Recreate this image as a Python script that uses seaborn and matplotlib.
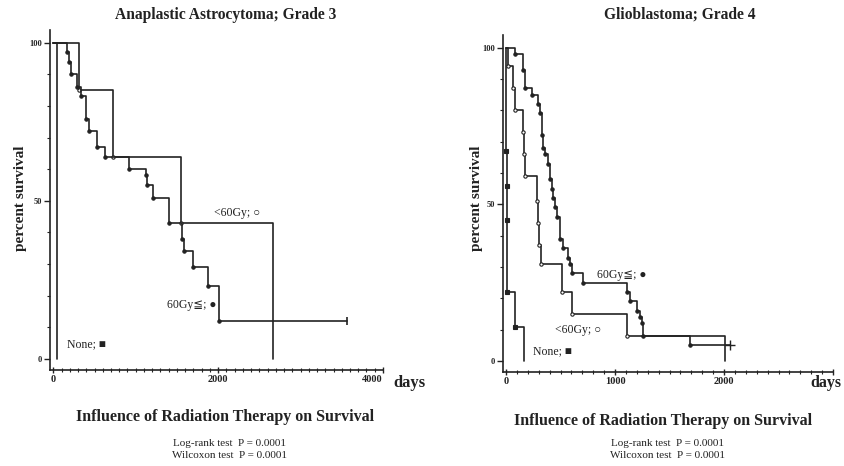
import matplotlib
matplotlib.use("Agg")
import matplotlib.pyplot as plt
import seaborn as sns
from matplotlib.ticker import MultipleLocator

# ---------------- data ----------------
# Left panel: Anaplastic Astrocytoma; Grade 3
aa_ge60_days = [0, 160, 190, 215, 290, 330, 400, 430, 530, 630, 915, 1120, 1140,
                1215, 1400, 1560, 1580, 1700, 1875, 2005, 3560]
aa_ge60_surv = [100, 97, 94, 90, 86, 83, 76, 72, 67, 64, 60, 58, 55,
                51, 43, 38, 34, 29, 23, 12, 12]
aa_lt60_days = [0, 310, 720, 1545, 2660]
aa_lt60_surv = [100, 85, 64, 43, 0]
aa_none_days = [0, 50]
aa_none_surv = [100, 0]
aa_censor_days = [3560]
aa_censor_surv = [12]

# Right panel: Glioblastoma; Grade 4
gbm_ge60_days = [0, 83, 156, 174, 239, 294, 312, 327, 340, 358, 385, 404, 419, 431, 449,
                 465, 495, 523, 569, 590, 606, 706, 1110, 1138, 1200, 1228, 1248, 1258,
                 1690, 2055]
gbm_ge60_surv = [100, 98, 93, 87, 85, 82, 79, 72, 68, 66, 63, 58, 55, 52, 49,
                 46, 39, 36, 33, 31, 28, 25, 22, 19, 16, 14, 12, 8, 5, 5]
gbm_lt60_days = [0, 18, 64, 80, 156, 165, 174, 284, 295, 305, 320, 514, 606, 1110, 2010]
gbm_lt60_surv = [100, 94, 87, 80, 73, 66, 59, 51, 44, 37, 31, 22, 15, 8, 0]
gbm_none_days = [0, 2, 4, 6, 8, 80, 165]
gbm_none_surv = [100, 67, 56, 45, 22, 11, 0]
gbm_censor_days = [2055]
gbm_censor_surv = [5]

titles = ["Anaplastic Astrocytoma; Grade 3", "Glioblastoma; Grade 4"]
group_labels = ["60Gy≦; ●", "<60Gy; ○", "None; ■"]
left_xticks = [0, 2000, 4000]
left_xticklabels = ["0", "2000", "4000"]
right_xticks = [0, 1000, 2000, 3000]
right_xticklabels = ["0", "1000", "2000", ""]
yticks = [0, 50, 100]
yticklabels = ["0", "50", "100"]
footer = "Influence of Radiation Therapy on Survival"
stats = ["Log-rank test  P = 0.0001", "Wilcoxon test  P = 0.0001"]

# ---------------- style ----------------
sns.set_theme(style="ticks")
plt.rcParams["font.family"] = ["Liberation Serif", "DejaVu Serif", "DejaVu Sans"]
INK = "#222222"

fig = plt.figure(figsize=(8.45, 4.66), dpi=100)
axL = fig.add_axes([0.0592, 0.206, 0.394, 0.7296])
axR = fig.add_axes([0.5953, 0.2017, 0.3905, 0.723])


def km(ax, days, surv, marker=None, mfc=INK, ms=2.4, lw=1.2):
    n = len(days)
    kw = {}
    if marker is not None and n > 2:
        kw = dict(marker=marker, markersize=ms, markerfacecolor=mfc,
                  markeredgecolor=INK, markeredgewidth=0.8,
                  markevery=list(range(1, n - 1)))
    sns.lineplot(x=days, y=surv, ax=ax, estimator=None, sort=False,
                 drawstyle="steps-post", color=INK, linewidth=lw,
                 legend=False, **kw)


def style_axis(ax, xlim, xticks, xticklabels):
    ax.set_xlim(*xlim)
    ax.set_ylim(-3.5, 104)
    sns.despine(ax=ax)
    ax.set_yticks(yticks)
    ax.set_yticklabels(yticklabels)
    ax.set_xticks(xticks)
    ax.set_xticklabels(xticklabels)
    ax.yaxis.set_minor_locator(MultipleLocator(10))
    ax.xaxis.set_minor_locator(MultipleLocator(100))
    ax.tick_params(axis="y", which="major", length=4, width=1.0,
                   labelsize=6, colors=INK, pad=2)
    ax.tick_params(axis="x", which="major", length=5, width=1.0,
                   labelsize=7.5, colors=INK, pad=1)
    ax.tick_params(axis="both", which="minor", length=2.5, width=0.8, colors=INK)
    ax.tick_params(axis="x", which="both", direction="inout")
    for lab in ax.get_xticklabels() + ax.get_yticklabels():
        lab.set_fontweight("bold")
    for s in ax.spines.values():
        s.set_linewidth(1.2)
        s.set_color(INK)
    ax.set_xlabel("")
    ax.set_ylabel("")


# ---------------- left panel ----------------
km(axL, aa_none_days, aa_none_surv)
km(axL, aa_lt60_days, aa_lt60_surv, marker="o", mfc="white")
km(axL, aa_ge60_days, aa_ge60_surv, marker="o", mfc=INK)
sns.scatterplot(x=aa_censor_days, y=aa_censor_surv, ax=axL, marker="|", s=40,
                color=INK, linewidth=1.2, legend=False)
style_axis(axL, (-40, 4000), left_xticks, left_xticklabels)
axL.get_xticklabels()[-1].set_ha("right")
axL.text(1950, 46, group_labels[1], fontsize=8.5, va="center", ha="left", color=INK)
axL.text(1385, 17, group_labels[0], fontsize=8.5, va="center", ha="left", color=INK)
axL.text(170, 4.5, group_labels[2], fontsize=8.5, va="center", ha="left", color=INK)

# ---------------- right panel ----------------
km(axR, gbm_none_days, gbm_none_surv, marker="s", mfc=INK)
km(axR, gbm_lt60_days, gbm_lt60_surv, marker="o", mfc="white")
km(axR, gbm_ge60_days, gbm_ge60_surv, marker="o", mfc=INK)
sns.scatterplot(x=gbm_censor_days, y=gbm_censor_surv, ax=axR, marker="+", s=50,
                color=INK, linewidth=1.0, legend=False)
style_axis(axR, (-28, 3000), right_xticks, right_xticklabels)
axR.text(835, 27.5, group_labels[0], fontsize=8.5, va="center", ha="left", color=INK)
axR.text(450, 10, group_labels[1], fontsize=8.5, va="center", ha="left", color=INK)
axR.text(248, 3.2, group_labels[2], fontsize=8.5, va="center", ha="left", color=INK)

# ---------------- figure text ----------------
W, H = 845.0, 466.0
fig.text(226 / W, 1 - 15 / H, titles[0], ha="center", va="center", fontsize=11.2,
         fontweight="bold", color=INK)
fig.text(680 / W, 1 - 15 / H, titles[1], ha="center", va="center", fontsize=11.2,
         fontweight="bold", color=INK)
for xpix in (21, 477):
    fig.text(xpix / W, 1 - 198 / H, "percent survival", rotation=90, ha="center",
             va="center", fontsize=11, fontweight="bold", color=INK)
fig.text(409 / W, 1 - 383 / H, "days", ha="center", va="center", fontsize=12,
         fontweight="bold", color=INK)
fig.text(826 / W, 1 - 383 / H, "days", ha="center", va="center", fontsize=11.5,
         fontweight="bold", color=INK)

for cx, fy, sy1, sy2 in ((225, 417, 443, 456), (663, 421, 443, 456)):
    fig.text(cx / W, 1 - fy / H, footer, ha="center", va="center", fontsize=11.5,
             fontweight="bold", color=INK)
    fig.text((cx + 5) / W, 1 - sy1 / H, stats[0], ha="center", va="center",
             fontsize=8, color=INK)
    fig.text((cx + 5) / W, 1 - sy2 / H, stats[1], ha="center", va="center",
             fontsize=8, color=INK)

fig.savefig("out.png", dpi=100, facecolor="white")
